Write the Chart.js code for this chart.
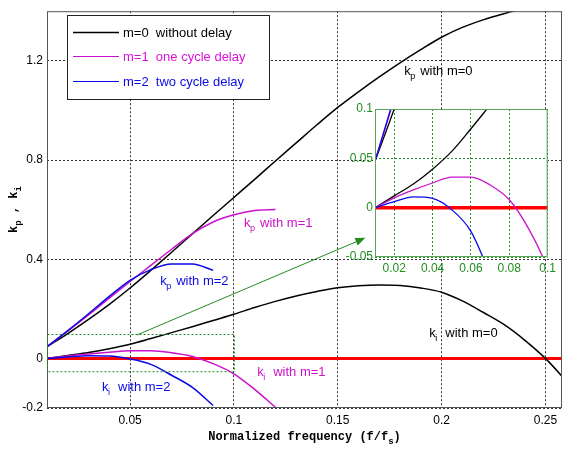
<!DOCTYPE html>
<html><head><meta charset="utf-8">
<script src="https://cdn.jsdelivr.net/npm/chart.js@4"></script>
<style>
html,body{margin:0;padding:0;background:#fff;}
#wrap{position:relative;width:563px;height:450px;overflow:hidden;}
#main{position:absolute;left:0;top:0;}
#inset{position:absolute;left:300px;top:90px;pointer-events:none;}
</style></head><body>
<div id="wrap"><canvas id="main" width="563" height="450"></canvas><canvas id="inset" width="260" height="190"></canvas></div>
<script>
// ---------- data ----------
const freq0 = [0.01,0.02,0.03,0.04,0.05,0.06,0.07,0.08,0.09,0.10,0.11,0.12,0.13,0.14,0.15,0.16,0.17,0.18,0.19,0.20,0.21,0.22,0.23,0.24,0.25,0.26];
const kp0 = [0.047,0.100,0.157,0.218,0.284,0.355,0.428,0.502,0.576,0.649,0.722,0.796,0.869,0.942,1.012,1.075,1.135,1.192,1.245,1.295,1.335,1.365,1.390,1.412,1.430,1.445];
const ki0 = [0.000,0.012,0.024,0.039,0.057,0.080,0.104,0.128,0.153,0.178,0.205,0.230,0.252,0.270,0.285,0.293,0.296,0.294,0.284,0.267,0.232,0.186,0.137,0.074,0.000,-0.090];
const freq1 = [0.01,0.02,0.03,0.04,0.05,0.06,0.07,0.08,0.09,0.10,0.11,0.12];
const kp1 = [0.047,0.110,0.175,0.243,0.310,0.375,0.440,0.503,0.550,0.579,0.596,0.600];
const ki1 = [0.000,0.010,0.018,0.025,0.031,0.031,0.023,0.008,-0.021,-0.062,-0.125,-0.197];
const freq2 = [0.01,0.02,0.03,0.04,0.05,0.06,0.07,0.08,0.09];
const kp2 = [0.047,0.112,0.180,0.250,0.315,0.358,0.381,0.381,0.355];
const ki2 = [0.000,0.006,0.011,0.0095,-0.002,-0.024,-0.068,-0.117,-0.190];
const zeroX = [0.01, 0.26];
const zeroY = [0, 0];
const xTicks = [0.05,0.1,0.15,0.2,0.25];
const yTicks = [-0.2,0,0.4,0.8,1.2];
const insetXTicks = [0.02,0.04,0.06,0.08,0.1];
const insetYTicks = [-0.05,0,0.05,0.1];
const seriesNames = ['m=0  without delay','m=1  one cycle delay','m=2  two cycle delay'];
const xTitle = 'Normalized frequency (f/f';
const xTitleSub = 's';

// ---------- styles ----------
const C0 = '#000000', C1 = '#cc11cc', C2 = '#0a0ae6', CR = '#ff0000', CG = '#228b22';
const SANS = '"Liberation Sans", Arial, sans-serif';
const MONO = '"Liberation Mono", "Courier New", monospace';

const pts = (xs, ys) => xs.map((x, i) => ({x: x, y: ys[i]}));
const fmt = v => String(+(+v).toFixed(3));

function makeDatasets(w, rw) {
  const base = {pointRadius: 0, fill: false, cubicInterpolationMode: 'monotone', borderWidth: w};
  return [
    Object.assign({}, base, {data: pts(freq2, kp2), borderColor: C2}),
    Object.assign({}, base, {data: pts(freq2, ki2), borderColor: C2}),
    Object.assign({}, base, {data: pts(freq1, kp1), borderColor: C1}),
    Object.assign({}, base, {data: pts(freq1, ki1), borderColor: C1}),
    Object.assign({}, base, {data: pts(freq0, kp0), borderColor: C0}),
    Object.assign({}, base, {data: pts(freq0, ki0), borderColor: C0}),
    Object.assign({}, base, {data: pts(zeroX, zeroY), borderColor: CR, borderWidth: rw})
  ];
}

// annotations (data-coordinate anchors)
const curveLabels = [
  {sub: 'p', rest: 'with m=0', x: 0.1820, y: 1.141, color: C0},
  {sub: 'p', rest: 'with m=1', x: 0.1049, y: 0.529, color: C1},
  {sub: 'p', rest: 'with m=2', x: 0.0645, y: 0.296, color: C2},
  {sub: 'i', rest: 'with m=2', x: 0.0365, y: -0.130, color: C2},
  {sub: 'i', rest: 'with m=1', x: 0.1112, y: -0.071, color: C1},
  {sub: 'i', rest: 'with m=0', x: 0.1941, y: 0.087, color: C0}
];
const zoomBox = {x0: 0.01, x1: 0.1, y0: -0.05, y1: 0.1};
const arrow = {x0: 0.0534, y0: 0.0947, x1: 0.1633, y1: 0.486};

function drawK(ctx, px, py, sub, rest, color) {
  ctx.save();
  ctx.fillStyle = color; ctx.textAlign = 'left'; ctx.textBaseline = 'alphabetic';
  ctx.font = '13px ' + SANS;
  ctx.fillText('k', px, py);
  const kw = ctx.measureText('k').width;
  ctx.font = '9px ' + SANS;
  ctx.fillText(sub, px + kw - 0.5, py + 4);
  ctx.font = '13px ' + SANS;
  ctx.fillText(rest, px + 16, py);
  ctx.restore();
}

const decor = {
  id: 'decor',
  afterDraw(chart) {
    const ctx = chart.ctx, a = chart.chartArea;
    const xs = chart.scales.x, ys = chart.scales.y;
    ctx.save();
    // frame
    ctx.strokeStyle = '#555'; ctx.lineWidth = 1; ctx.setLineDash([]);
    ctx.strokeRect(a.left + 0.5, a.top + 0.5, a.right - a.left - 1, a.bottom - a.top - 1);
    // zoom rectangle
    ctx.strokeStyle = CG; ctx.setLineDash([2, 2]);
    const rx0 = xs.getPixelForValue(zoomBox.x0), rx1 = xs.getPixelForValue(zoomBox.x1);
    const ry0 = ys.getPixelForValue(zoomBox.y1), ry1 = ys.getPixelForValue(zoomBox.y0);
    ctx.strokeRect(Math.round(rx0) + 0.5, Math.round(ry0) + 0.5, rx1 - rx0, ry1 - ry0);
    ctx.setLineDash([]);
    // arrow
    const ax0 = xs.getPixelForValue(arrow.x0), ay0 = ys.getPixelForValue(arrow.y0);
    const ax1 = xs.getPixelForValue(arrow.x1), ay1 = ys.getPixelForValue(arrow.y1);
    const ang = Math.atan2(ay1 - ay0, ax1 - ax0);
    ctx.strokeStyle = CG; ctx.fillStyle = CG; ctx.lineWidth = 1;
    ctx.beginPath(); ctx.moveTo(ax0, ay0);
    ctx.lineTo(ax1 - 8 * Math.cos(ang), ay1 - 8 * Math.sin(ang)); ctx.stroke();
    ctx.beginPath(); ctx.moveTo(ax1, ay1);
    ctx.lineTo(ax1 - 10 * Math.cos(ang) + 4 * Math.sin(ang), ay1 - 10 * Math.sin(ang) - 4 * Math.cos(ang));
    ctx.lineTo(ax1 - 10 * Math.cos(ang) - 4 * Math.sin(ang), ay1 - 10 * Math.sin(ang) + 4 * Math.cos(ang));
    ctx.closePath(); ctx.fill();
    // curve labels
    curveLabels.forEach(l => drawK(ctx, xs.getPixelForValue(l.x), ys.getPixelForValue(l.y), l.sub, l.rest, l.color));
    // legend
    const lx = 67, ly = 15, lw = 202, lh = 84;
    ctx.fillStyle = '#fff'; ctx.fillRect(lx, ly, lw, lh);
    ctx.strokeStyle = '#222'; ctx.lineWidth = 1;
    ctx.strokeRect(lx + 0.5, ly + 0.5, lw, lh);
    const cols = [C0, C1, C2], rows = [32, 56, 81];
    ctx.font = '13px ' + SANS; ctx.textBaseline = 'middle'; ctx.textAlign = 'left';
    seriesNames.forEach((n, i) => {
      ctx.strokeStyle = cols[i]; ctx.lineWidth = (i === 0 ? 1.5 : 1.2);
      ctx.beginPath(); ctx.moveTo(73, rows[i] + 0.5); ctx.lineTo(119, rows[i] + 0.5); ctx.stroke();
      ctx.fillStyle = (i === 1 ? '#dd11dd' : cols[i]);
      ctx.fillText(n, 123, rows[i] + 1);
    });
    // x title
    ctx.fillStyle = '#000'; ctx.textBaseline = 'alphabetic';
    ctx.font = 'bold 12px ' + MONO;
    const tw = ctx.measureText(xTitle).width;
    ctx.font = 'bold 9px ' + MONO; const sw = ctx.measureText(xTitleSub).width;
    ctx.font = 'bold 12px ' + MONO; const pw = ctx.measureText(')').width;
    const cx = (a.left + a.right) / 2, tx = cx - (tw + sw + pw) / 2, ty = 440;
    ctx.fillText(xTitle, tx, ty);
    ctx.font = 'bold 9px ' + MONO; ctx.fillText(xTitleSub, tx + tw, ty + 4);
    ctx.font = 'bold 12px ' + MONO; ctx.fillText(')', tx + tw + sw, ty);
    // y title (rotated)
    ctx.save();
    ctx.translate(17, (a.top + a.bottom) / 2);
    ctx.rotate(-Math.PI / 2);
    const parts = [['k', 12, 0], ['p', 9, 4], [' , ', 12, 0], ['k', 12, 0], ['i', 9, 4]];
    let total = 0;
    parts.forEach(p => { ctx.font = 'bold ' + p[1] + 'px ' + MONO; total += ctx.measureText(p[0]).width; });
    let px = -total / 2;
    parts.forEach(p => { ctx.font = 'bold ' + p[1] + 'px ' + MONO; ctx.fillText(p[0], px, p[2]); px += ctx.measureText(p[0]).width; });
    ctx.restore();
    ctx.restore();
  }
};

Chart.defaults.font.family = SANS;

new Chart(document.getElementById('main'), {
  type: 'line',
  data: {datasets: makeDatasets(1.5, 3)},
  options: {
    responsive: false, animation: false, events: [],
    layout: {padding: {top: 3, right: 1, left: 0, bottom: 0}},
    plugins: {legend: {display: false}, tooltip: {enabled: false}},
    scales: {
      x: {
        type: 'linear', min: 0.01, max: 0.258,
        afterBuildTicks: s => { s.ticks = xTicks.map(v => ({value: v})); },
        afterFit: s => { s.height = 42; },
        grid: {color: '#333', lineWidth: 1, drawTicks: false},
        border: {display: false, dash: [2, 2]},
        ticks: {padding: 5, autoSkip: false, maxRotation: 0, color: '#000', font: {size: 12}, callback: fmt}
      },
      y: {
        type: 'linear', min: -0.2, max: 1.4,
        afterBuildTicks: s => { s.ticks = yTicks.map(v => ({value: v})); },
        afterFit: s => { s.width = 47; },
        grid: {color: '#333', lineWidth: 1, drawTicks: false},
        border: {display: false, dash: [2, 2]},
        ticks: {padding: 4, autoSkip: false, color: '#000', font: {size: 12}, callback: fmt}
      }
    }
  },
  plugins: [decor]
});

const insetDecor = {
  id: 'insetDecor',
  beforeDraw(chart) {
    const ctx = chart.ctx, a = chart.chartArea;
    ctx.save(); ctx.fillStyle = '#fff';
    ctx.fillRect(a.left, a.top, a.right - a.left, a.bottom - a.top);
    ctx.restore();
  },
  afterDraw(chart) {
    const ctx = chart.ctx, a = chart.chartArea;
    ctx.save();
    ctx.strokeStyle = '#5aa55a'; ctx.lineWidth = 1;
    ctx.strokeRect(a.left + 0.5, a.top + 0.5, a.right - a.left - 1, a.bottom - a.top - 1);
    ctx.restore();
  }
};

new Chart(document.getElementById('inset'), {
  type: 'line',
  data: {datasets: makeDatasets(1.3, 3.5)},
  options: {
    responsive: false, animation: false, events: [],
    layout: {padding: {top: 19, right: 7, left: 0, bottom: 0}},
    plugins: {legend: {display: false}, tooltip: {enabled: false}},
    scales: {
      x: {
        type: 'linear', min: 0.01, max: 0.1,
        afterBuildTicks: s => { s.ticks = insetXTicks.map(v => ({value: v})); },
        afterFit: s => { s.height = 23; },
        grid: {color: CG, lineWidth: 1, drawTicks: false},
        border: {display: false, dash: [2, 2]},
        ticks: {padding: 4, autoSkip: false, maxRotation: 0, color: '#1f8f1f', font: {size: 12}, callback: fmt}
      },
      y: {
        type: 'linear', min: -0.05, max: 0.1,
        afterBuildTicks: s => { s.ticks = insetYTicks.map(v => ({value: v})); },
        afterFit: s => { s.width = 75; },
        grid: {color: CG, lineWidth: 1, drawTicks: false},
        border: {display: false, dash: [2, 2]},
        ticks: {padding: 2, autoSkip: false, color: '#1f8f1f', font: {size: 12}, callback: fmt}
      }
    }
  },
  plugins: [insetDecor]
});
</script>
</body></html>
